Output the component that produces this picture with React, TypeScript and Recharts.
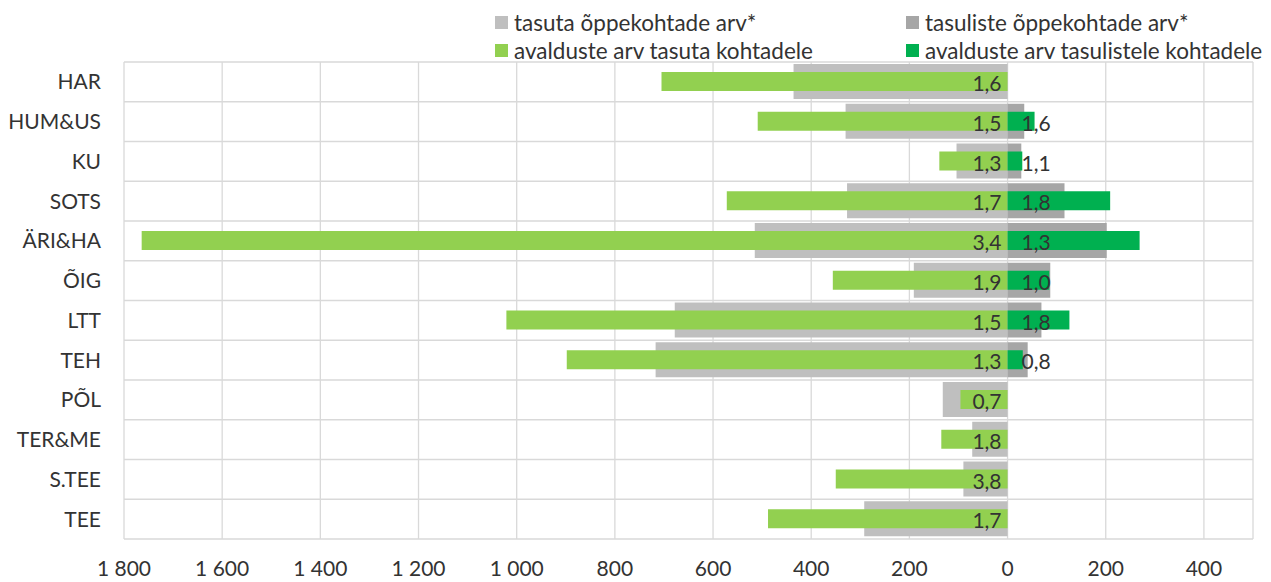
import React from 'react';
import { BarChart, Bar, XAxis, YAxis, CartesianGrid, Legend, LabelList } from 'recharts';

const categories = ['HAR', 'HUM&US', 'KU', 'SOTS', 'ÄRI&HA', 'ÕIG', 'LTT', 'TEH', 'PÕL', 'TER&ME', 'S.TEE', 'TEE'];
const freePlaces = [436, 330, 104, 327, 515, 191, 678, 717, 132, 72, 90, 292];
const paidPlaces = [null, 34, 28, 116, 202, 87, 69, 41, null, null, null, null];
const freeApplications = [705, 509, 139, 572, 1764, 356, 1021, 898, 96, 135, 350, 488];
const paidApplications = [null, 55, 30, 209, 269, 85, 126, 31, null, null, null, null];
const freeRatio = ['1,6', '1,5', '1,3', '1,7', '3,4', '1,9', '1,5', '1,3', '0,7', '1,8', '3,8', '1,7'];
const paidRatio = [null, '1,6', '1,1', '1,8', '1,3', '1,0', '1,8', '0,8', null, null, null, null];
const xTicks = [-1800, -1600, -1400, -1200, -1000, -800, -600, -400, -200, 0, 200, 400];
const seriesNames = [
  'tasuta õppekohtade arv*',
  'tasuliste õppekohtade arv*',
  'avalduste arv tasuta kohtadele',
  'avalduste arv tasulistele kohtadele',
];

const FONT = 'Lato, "Open Sans", sans-serif';
const TEXT = '#333333';

const data = categories.map((c, i) => ({
  cat: c,
  freePlaces: -freePlaces[i],
  paidPlaces: paidPlaces[i],
  freeApps: -freeApplications[i],
  paidApps: paidApplications[i],
  freeRatio: freeRatio[i],
  paidRatio: paidRatio[i],
}));

const fmt = (v: number) => {
  const n = Math.abs(v);
  if (n >= 1000) return `${Math.floor(n / 1000)} ${String(n % 1000).padStart(3, '0')}`;
  return String(n);
};

const LeftLabel = (props: any) => {
  const { x, y, width, height, value } = props;
  if (value == null) return null;
  const edge = Math.max(Number(x), Number(x) + Number(width));
  return (
    <text x={edge - 6} y={Number(y) + Number(height) / 2 + 1} textAnchor="end" dominantBaseline="central"
      fontFamily={FONT} fontSize={21} fill={TEXT}>{value}</text>
  );
};

const RightLabel = (props: any) => {
  const { x, y, width, height, value } = props;
  if (value == null) return null;
  const edge = Math.min(Number(x), Number(x) + Number(width));
  return (
    <text x={edge + 14} y={Number(y) + Number(height) / 2 + 1} textAnchor="start" dominantBaseline="central"
      fontFamily={FONT} fontSize={21} fill={TEXT}>{value}</text>
  );
};

const renderLegend = (props: any) => {
  const items = [...(props.payload || [])].sort(
    (a: any, b: any) => seriesNames.indexOf(a.value) - seriesNames.indexOf(b.value)
  );
  return (
    <div style={{ display: 'grid', gridTemplateColumns: '411px 360px', fontFamily: FONT, fontSize: 22.5, color: TEXT }}>
      {items.map((p: any, i: number) => (
        <div key={i} style={{ display: 'flex', alignItems: 'center', height: 28, whiteSpace: 'nowrap' }}>
          <span style={{ display: 'inline-block', width: 13, height: 13, background: p.color, marginRight: 6 }} />
          <span>{p.value}</span>
        </div>
      ))}
    </div>
  );
};

export default function App() {
  return (
    <div style={{ position: 'absolute', left: 0, top: 0, background: '#fff' }}>
      <BarChart
        width={1271}
        height={582}
        data={data}
        layout="vertical"
        stackOffset="sign"
        margin={{ top: 62, right: 18, bottom: 0, left: 0 }}
      >
        <CartesianGrid
          stroke="#d9d9d9"
          strokeWidth={1.3}
          yAxisId="a"
          horizontalCoordinatesGenerator={({ offset }: any) =>
            Array.from({ length: categories.length + 1 }, (_, i) => offset.top + (i * offset.height) / categories.length)
          }
        />
        <XAxis
          type="number"
          domain={[-1800, 500]}
          allowDataOverflow
          ticks={xTicks}
          tickFormatter={fmt}
          axisLine={false}
          tickLine={false}
          tickSize={0}
          tickMargin={22}
          height={43}
          tick={{ fontFamily: FONT, fontSize: 21, fill: TEXT }}
        />
        <YAxis
          yAxisId="a"
          type="category"
          dataKey="cat"
          width={124}
          axisLine={false}
          tickLine={false}
          tickSize={0}
          tickMargin={23}
          interval={0}
          tick={{ fontFamily: FONT, fontSize: 21, fill: TEXT }}
        />
        <YAxis yAxisId="b" type="category" dataKey="cat" hide />
        <Legend
          layout="vertical"
          verticalAlign="middle"
          align="center"
          content={renderLegend}
          wrapperStyle={{ top: 8, left: 495, width: 775 }}
        />
        <Bar yAxisId="a" dataKey="freePlaces" name={seriesNames[0]} stackId="grey" fill="#bfbfbf" barSize={35} isAnimationActive={false} />
        <Bar yAxisId="a" dataKey="paidPlaces" name={seriesNames[1]} stackId="grey" fill="#a6a6a6" barSize={35} isAnimationActive={false} />
        <Bar yAxisId="b" dataKey="freeApps" name={seriesNames[2]} stackId="green" fill="#92d050" barSize={19} isAnimationActive={false}>
          <LabelList dataKey="freeRatio" content={LeftLabel} />
        </Bar>
        <Bar yAxisId="b" dataKey="paidApps" name={seriesNames[3]} stackId="green" fill="#00b050" barSize={19} isAnimationActive={false}>
          <LabelList dataKey="paidRatio" content={RightLabel} />
        </Bar>
      </BarChart>
    </div>
  );
}
